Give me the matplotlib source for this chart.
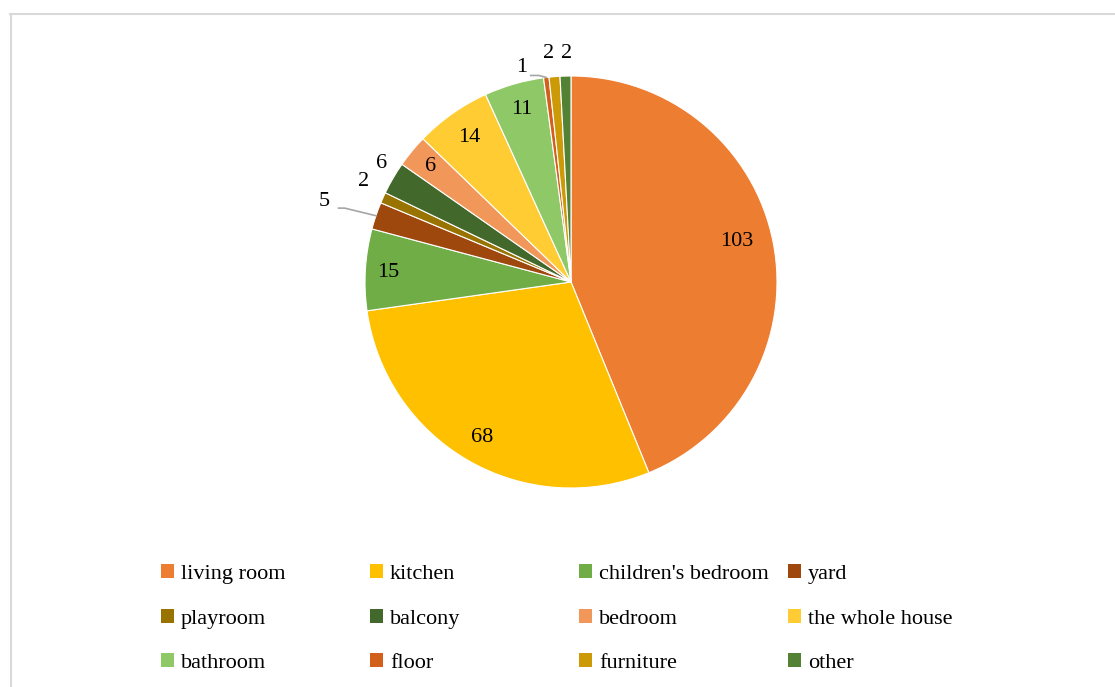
import numpy as np
import matplotlib
matplotlib.use("Agg")
import matplotlib.pyplot as plt
from matplotlib.lines import Line2D
from matplotlib.patches import Patch

plt.rcParams['font.family'] = ['Liberation Serif', 'DejaVu Serif']

rooms = ['living room', 'kitchen', "children's bedroom", 'yard',
         'playroom', 'balcony', 'bedroom', 'the whole house',
         'bathroom', 'floor', 'furniture', 'other']
counts = [103, 68, 15, 5, 2, 6, 6, 14, 11, 1, 2, 2]
colors = ['#ED7D31', '#FFC000', '#70AD47', '#9E480E',
          '#997300', '#43682B', '#F1975A', '#FFCD33',
          '#8FC866', '#D2601A', '#CC9A06', '#548235']

# label placement: (radius factor, angle shift in degrees)
label_pos = [(0.83, 2.5), (0.87, 0), (0.89, 0.5), (1.26, 0.8),
             (1.12, -1.7), (1.085, -1.9), (0.88, 0), (0.86, 0),
             (0.87, 0), (1.07, 6.1), (1.115, 1.1), (1.11, -0.3)]
leader = {3, 9}

fig = plt.figure(figsize=(11.15, 6.87), dpi=100)
W, H = 1115, 687
cx, cy, r = 571, 282, 206
ax = fig.add_axes([(cx - r) / W, (H - cy - r) / H, 2 * r / W, 2 * r / H])

wedges, _ = ax.pie(counts, colors=colors, startangle=90, counterclock=False,
                   wedgeprops=dict(edgecolor='white', linewidth=0.8))
ax.set_xlim(-1, 1)
ax.set_ylim(-1, 1)

for i, w in enumerate(wedges):
    mid = np.deg2rad((w.theta1 + w.theta2) / 2)
    rf, shift = label_pos[i]
    a = mid + np.deg2rad(shift)
    x, y = rf * np.cos(a), rf * np.sin(a)
    ax.text(x, y, str(counts[i]), ha='center', va='center', fontsize=16,
            color='#000000', clip_on=False)
    if i in leader:
        ex, ey = np.cos(mid), np.sin(mid)
        if i == 3:
            kx, ky = x + 0.1, y - 0.03
            ax.plot([x + 0.07, kx, ex], [ky, ky, ey], color='#A6A6A6',
                    lw=1.2, clip_on=False)
        else:
            kx, ky = x + 0.085, y - 0.04
            ax.plot([x + 0.045, kx, ex], [ky, ky, ey], color='#A6A6A6',
                    lw=1.2, clip_on=False)

# legend: 4 columns x 3 rows, filled row by row
col_x = [161, 370, 579, 788]
row_y = [574, 619, 663]
for k, (name, c) in enumerate(zip(rooms, colors)):
    rr, cc = divmod(k, 4)
    fig.legend([Patch(facecolor=c, edgecolor='none')], [name],
               loc='center left',
               bbox_to_anchor=(col_x[cc] / W, 1 - row_y[rr] / H),
               frameon=False, fontsize=16, handlelength=0.6,
               handleheight=0.6, handletextpad=0.3, borderpad=0,
               borderaxespad=0)

# chart frame
fig.add_artist(Line2D([10 / W, 1], [1 - 14 / H, 1 - 14 / H],
                      color='#D9D9D9', lw=1.5))
fig.add_artist(Line2D([11 / W, 11 / W], [0, 1 - 14 / H],
                      color='#D9D9D9', lw=1.5))

fig.savefig('out.png', dpi=100)
